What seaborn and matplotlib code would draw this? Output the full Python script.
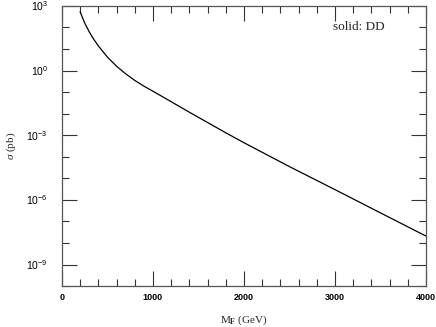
import numpy as np
import pandas as pd
import matplotlib
matplotlib.use('Agg')
import matplotlib.pyplot as plt
from matplotlib.ticker import FixedLocator, NullFormatter
import seaborn as sns

# Cross section (M_F in GeV, sigma in pb)
massF = [200, 250, 300, 350, 400, 500, 600, 700, 800, 900, 1000,
         1100, 1200, 1400, 1600, 1800, 2000, 2500, 3000, 3500, 4000]
sigma = [5.4e2, 1.6e2, 6.3e1, 2.8e1, 1.4e1, 4.2e0, 1.6e0, 7.1e-1, 3.5e-1, 1.9e-1, 1.1e-1,
         6.3e-2, 3.6e-2, 1.17e-2, 3.9e-3, 1.3e-3, 4.5e-4, 3.5e-5, 3.0e-6, 2.5e-7, 2.1e-8]

xMajor = [0, 1000, 2000, 3000, 4000]
yMajor = [1e-9, 1e-6, 1e-3, 1e0, 1e3]
yLabels = ['$10^{-9}$', '$10^{-6}$', '$10^{-3}$', '$10^{0}$', '$10^{3}$']

sns.set_style('ticks')
plt.rcParams['font.family'] = ['Liberation Serif', 'DejaVu Serif']
plt.rcParams['mathtext.fontset'] = 'custom'
plt.rcParams['mathtext.rm'] = 'Liberation Sans'
plt.rcParams['mathtext.it'] = 'Liberation Serif:italic'
plt.rcParams['mathtext.bf'] = 'Liberation Serif:bold'

df = pd.DataFrame({'M': massF, 'sigma': sigma})

fig = plt.figure(figsize=(4.36, 3.27), dpi=100)
ax = fig.add_axes([0.142, 0.125, 0.835, 0.857])

sns.lineplot(data=df, x='M', y='sigma', color='black', linewidth=0.9, ax=ax)
ax.set_yscale('log')
ax.set_xlim(0, 4000)
ax.set_ylim(1e-10, 1e3)

# ticks inside on all four sides
ax.xaxis.set_major_locator(FixedLocator(xMajor))
ax.xaxis.set_minor_locator(FixedLocator([m for m in range(0, 4001, 200) if m % 1000]))
ax.yaxis.set_major_locator(FixedLocator(yMajor))
ax.yaxis.set_minor_locator(FixedLocator([10.0 ** k for k in range(-10, 4) if k % 3]))
ax.yaxis.set_minor_formatter(NullFormatter())
ax.set_yticklabels(yLabels)
ax.tick_params(which='both', direction='in', top=True, right=True, width=0.8, colors='#333333',
               labelsize=6.5, labelcolor='black')
ax.tick_params(axis='x', pad=5)
ax.tick_params(axis='y', pad=10, labelsize=7.5)
ax.tick_params(which='major', length=11)
ax.tick_params(which='minor', length=5)
for lbl in ax.get_xticklabels():
    lbl.set_family('Liberation Sans')
    lbl.set_weight('bold')
for spine in ax.spines.values():
    spine.set_linewidth(0.9)
    spine.set_color('#555555')

ax.set_xlabel('M$_{\\mathbf{F}}$ (GeV)', fontsize=8, labelpad=8)
ax.set_ylabel('$\\sigma$ (pb)', fontsize=8, labelpad=6)
ax.text(0.816, 0.925, 'solid: DD', transform=ax.transAxes, ha='center', va='center', fontsize=9.5)

fig.savefig('out.png', dpi=100)
